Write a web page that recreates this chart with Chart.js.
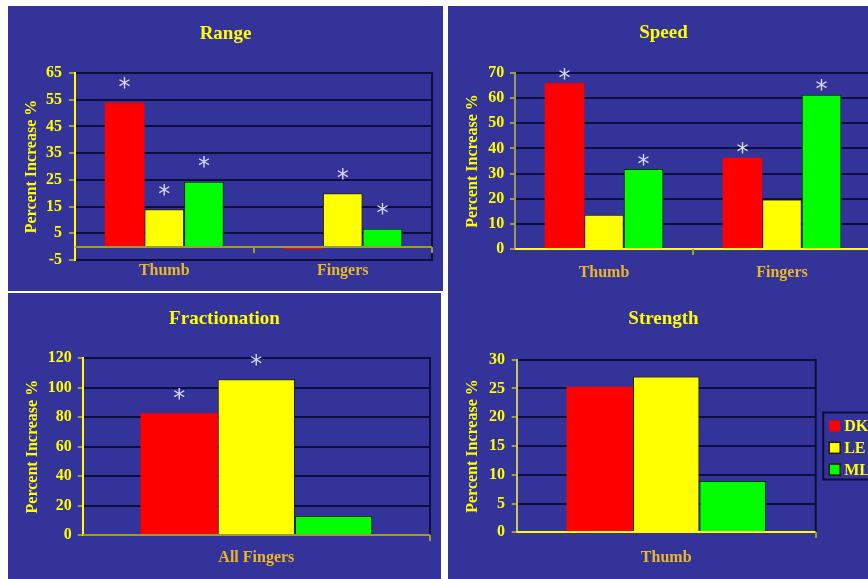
<!DOCTYPE html>
<html>
<head>
<meta charset="utf-8">
<script src="https://cdn.jsdelivr.net/npm/chart.js@4.4.1/dist/chart.umd.min.js"></script>
<style>
  html, body { margin: 0; padding: 0; background: #ffffff; }
  body { position: relative; width: 868px; height: 579px; overflow: hidden; }
  .bg { position: absolute; background: #333399; }
  canvas { position: absolute; }
</style>
</head>
<body>
<div class="bg" style="left:8px;top:6px;width:435px;height:285px"></div>
<div class="bg" style="left:8px;top:293px;width:433px;height:286px"></div>
<div class="bg" style="left:448px;top:6px;width:420px;height:573px"></div>
<canvas id="range" width="435" height="285" style="left:8px;top:6px"></canvas>
<canvas id="speed" width="431" height="284" style="left:448px;top:6px"></canvas>
<canvas id="fractionation" width="433" height="286" style="left:8px;top:293px"></canvas>
<canvas id="strength" width="431" height="289" style="left:448px;top:290px"></canvas>
<script>
// ---- series ----
const seriesNames = ['DK', 'LE', 'ML'];
const seriesFill = ['#ff0000', '#ffff00', '#00ff00'];
const seriesEdge = ['#ff0000', '#202000', '#003300'];

// ---- Range ----
const rangeCategories = ['Thumb', 'Fingers'];
const rangeDK = [54, -1];
const rangeLE = [14, 20];
const rangeML = [24.3, 6.7];
const rangeSigDK = [1, 0];
const rangeSigLE = [1, 1];
const rangeSigML = [1, 1];
const rangeTicks = [-5, 5, 15, 25, 35, 45, 55, 65];

// ---- Speed ----
const speedCategories = ['Thumb', 'Fingers'];
const speedDK = [66, 36.3];
const speedLE = [13.6, 19.7];
const speedML = [31.8, 61.3];
const speedSigDK = [1, 1];
const speedSigLE = [0, 0];
const speedSigML = [1, 1];
const speedTicks = [0, 10, 20, 30, 40, 50, 60, 70];

// ---- Fractionation ----
const fracCategories = ['All Fingers'];
const fracDK = [82.6];
const fracLE = [105.7];
const fracML = [12.9];
const fracSigDK = [1];
const fracSigLE = [1];
const fracSigML = [0];
const fracTicks = [0, 20, 40, 60, 80, 100, 120];

// ---- Strength ----
const strengthCategories = ['Thumb'];
const strengthDK = [25.3];
const strengthLE = [27.1];
const strengthML = [8.9];
const strengthTicks = [0, 5, 10, 15, 20, 25, 30];

const SERIF = '"Liberation Serif", "Times New Roman", serif';
const YELLOW = '#ffff00';
const GOLD = '#e8b828';
const OLIVE = '#9c9a40';
const GRID = '#0e0e3c';

// right border, category axis at zero and its boundary tick marks
function framePlugin(p) {
  return {
    id: 'frame',
    afterDatasetsDraw(chart) {
      const { ctx, chartArea: a, scales: { x, y } } = chart;
      ctx.save();
      ctx.lineWidth = 2;
      ctx.strokeStyle = GRID;
      ctx.beginPath();
      ctx.moveTo(a.right, a.top - 1);
      ctx.lineTo(a.right, a.bottom + 1);
      ctx.stroke();
      const y0 = Math.round(y.getPixelForValue(0));
      ctx.strokeStyle = p.zeroColor;
      ctx.beginPath();
      ctx.moveTo(a.left, y0);
      ctx.lineTo(a.right, y0);
      ctx.stroke();
      ctx.strokeStyle = OLIVE;
      for (let i = 0; i < chart.data.labels.length; i++) {
        const bx = Math.round(x.getPixelForValue(i + 0.5));
        ctx.beginPath();
        ctx.moveTo(bx, y0);
        ctx.lineTo(bx, y0 + 6);
        ctx.stroke();
      }
      ctx.restore();
    }
  };
}

// significance asterisks above flagged bars
function starPlugin(p) {
  const size = 24;
  return {
    id: 'stars',
    afterDatasetsDraw(chart) {
      const ctx = chart.ctx;
      ctx.save();
      ctx.fillStyle = '#d8d8ff';
      ctx.font = size + 'px "DejaVu Sans"';
      ctx.textAlign = 'center';
      ctx.textBaseline = 'alphabetic';
      chart.data.datasets.forEach((ds, di) => {
        if (!ds.sig) return;
        chart.getDatasetMeta(di).data.forEach((bar, j) => {
          if (ds.sig[j]) {
            const top = Math.min(bar.y, bar.base);
            ctx.fillText('*', bar.x, top - p.starOffset + size * 0.52);
          }
        });
      });
      ctx.restore();
    }
  };
}

// boxed series key to the right of the plot
const keyPlugin = {
  id: 'keyBox',
  afterDraw(chart) {
    const { ctx, chartArea: a } = chart;
    const boxH = 67;
    const left = a.right + 7.5;
    const top = (a.top + a.bottom) / 2 - boxH / 2;
    ctx.save();
    ctx.lineWidth = 2;
    ctx.strokeStyle = GRID;
    ctx.strokeRect(left, top, 90, boxH);
    ctx.font = 'bold 16px ' + SERIF;
    ctx.textBaseline = 'middle';
    ctx.textAlign = 'left';
    chart.data.datasets.forEach((d, i) => {
      const cy = top + 13.5 + i * 21.8;
      ctx.fillStyle = d.backgroundColor;
      ctx.fillRect(left + 6, cy - 5.5, 11, 11);
      if (i > 0) {
        ctx.lineWidth = 1.5;
        ctx.strokeStyle = '#202000';
        ctx.strokeRect(left + 6, cy - 5.5, 11, 11);
      }
      ctx.fillStyle = YELLOW;
      ctx.fillText(d.label, left + 21, cy + 1);
    });
    ctx.restore();
  }
};

function makeChart(id, p) {
  const extra = [framePlugin(p), starPlugin(p)];
  if (p.key) extra.push(keyPlugin);
  return new Chart(document.getElementById(id), {
    type: 'bar',
    data: {
      labels: p.categories,
      datasets: p.series.map((vals, i) => ({
        label: seriesNames[i],
        data: vals,
        sig: p.sig ? p.sig[i] : null,
        backgroundColor: seriesFill[i],
        borderColor: seriesEdge[i],
        borderWidth: i === 0 ? 0 : 1,
        categoryPercentage: 0.667,
        barPercentage: 1
      }))
    },
    options: {
      responsive: false,
      animation: false,
      devicePixelRatio: 1,
      layout: { padding: 0 },
      plugins: {
        legend: { display: false },
        tooltip: { enabled: false },
        title: {
          display: true,
          text: p.title,
          color: YELLOW,
          font: { family: SERIF, size: 19, weight: 'bold' },
          padding: { top: p.titleTop, bottom: p.titleBottom }
        }
      },
      scales: {
        x: {
          grid: { display: false, drawTicks: false },
          border: { display: true, color: p.bottomColor, width: 2 },
          ticks: { color: GOLD, font: { family: SERIF, size: 16, weight: 'bold' }, padding: p.xPad },
          afterFit: s => { s.height = p.xHeight; }
        },
        y: {
          min: p.ticks[0],
          max: p.ticks[p.ticks.length - 1],
          afterBuildTicks: s => { s.ticks = p.ticks.map(v => ({ value: v })); },
          afterFit: s => { s.width = p.yWidth; },
          grid: { color: GRID, lineWidth: 2, drawTicks: true, tickLength: p.tickLen, tickColor: OLIVE, tickWidth: 2 },
          border: { display: true, color: p.yAxisColor, width: 2 },
          ticks: { color: YELLOW, font: { family: SERIF, size: 16, weight: 'bold' }, padding: p.tickPad },
          title: {
            display: true,
            text: 'Percent Increase %',
            color: YELLOW,
            font: { family: SERIF, size: 16, weight: 'bold' },
            padding: { top: p.yTitlePad, bottom: 0 }
          }
        },
        yR: {
          position: 'right',
          display: true,
          grid: { display: false, drawTicks: false },
          border: { display: false },
          ticks: { display: false },
          afterFit: s => { s.width = p.rightWidth; }
        }
      }
    },
    plugins: extra
  });
}

makeChart('range', {
  title: 'Range', categories: rangeCategories,
  series: [rangeDK, rangeLE, rangeML], sig: [rangeSigDK, rangeSigLE, rangeSigML],
  ticks: rangeTicks,
  yWidth: 67, rightWidth: 11, xHeight: 31, xPad: 1.4,
  titleTop: 16.6, titleBottom: 27.6, tickLen: 6, tickPad: 7, yTitlePad: 14.1,
  zeroColor: OLIVE, yAxisColor: YELLOW, bottomColor: GRID, starOffset: 20
});

makeChart('speed', {
  title: 'Speed', categories: speedCategories,
  series: [speedDK, speedLE, speedML], sig: [speedSigDK, speedSigLE, speedSigML],
  ticks: speedTicks,
  yWidth: 67, rightWidth: 8, xHeight: 41, xPad: 14.4,
  titleTop: 15.6, titleBottom: 28.6, tickLen: 5, tickPad: 5.7, yTitlePad: 15.7,
  zeroColor: YELLOW, yAxisColor: '#9a9a55', bottomColor: YELLOW, starOffset: 10
});

makeChart('fractionation', {
  title: 'Fractionation', categories: fracCategories,
  series: [fracDK, fracLE, fracML], sig: [fracSigDK, fracSigLE, fracSigML],
  ticks: fracTicks,
  yWidth: 74.7, rightWidth: 11, xHeight: 44, xPad: 13.1,
  titleTop: 14.6, titleBottom: 27.9, tickLen: 5, tickPad: 6, yTitlePad: 15.7,
  zeroColor: OLIVE, yAxisColor: YELLOW, bottomColor: OLIVE, starOffset: 20
});

makeChart('strength', {
  title: 'Strength', categories: strengthCategories,
  series: [strengthDK, strengthLE, strengthML], sig: null,
  ticks: strengthTicks, key: true,
  yWidth: 68.7, rightWidth: 63.3, xHeight: 46.7, xPad: 15.8,
  titleTop: 17.9, titleBottom: 29, tickLen: 5, tickPad: 6.7, yTitlePad: 15.7,
  zeroColor: YELLOW, yAxisColor: '#c8c860', bottomColor: YELLOW, starOffset: 10
});
</script>
</body>
</html>
